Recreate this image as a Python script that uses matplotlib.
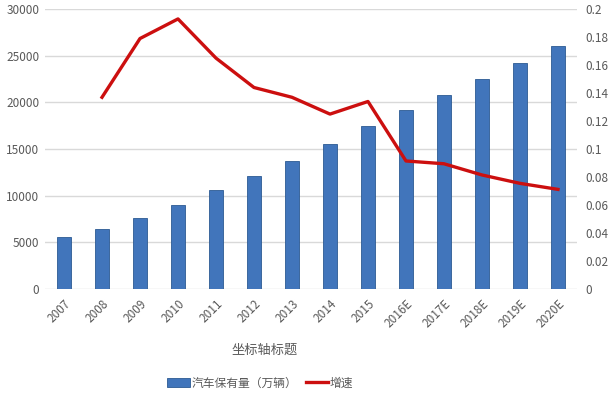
import matplotlib
matplotlib.use("Agg")
import matplotlib.pyplot as plt

plt.rcParams['font.family'] = ['Noto Sans CJK SC', 'DejaVu Sans']

years = ["2007", "2008", "2009", "2010", "2011", "2012", "2013", "2014", "2015",
         "2016E", "2017E", "2018E", "2019E", "2020E"]
stock = [5600, 6470, 7640, 9040, 10570, 12100, 13750, 15500, 17500,
         19150, 20800, 22500, 24250, 26100]
growth = [None, 0.137, 0.179, 0.193, 0.165, 0.144, 0.137, 0.125, 0.134,
          0.0915, 0.0895, 0.0815, 0.0755, 0.0712]

grey = "#595959"
fig = plt.figure(figsize=(6.14, 3.97), dpi=100)
ax = fig.add_axes([0.0733, 0.272, 0.8664, 0.705])
x = list(range(len(years)))

ax.bar(x, stock, width=0.37, color="#4175bb", edgecolor="#2c5a93", linewidth=0.6,
       label="汽车保有量（万辆）", zorder=2)
ax.set_ylim(0, 30000)
ax.set_yticks(range(0, 30001, 5000))
ax.set_xlim(-0.5, len(years) - 0.5)
ax.set_xticks(x)
ax.set_xticklabels(years, rotation=45, ha="right", rotation_mode="anchor")
ax.grid(axis="y", color="#d9d9d9", linewidth=1, zorder=0)
ax.set_axisbelow(True)
for s in ax.spines.values():
    s.set_visible(False)
ax.tick_params(length=0, labelsize=8.5, colors=grey, pad=4)
ax.tick_params(axis="x", pad=6)
ax.set_xlabel("坐标轴标题", fontsize=9.5, color=grey, va="center")
ax.xaxis.set_label_coords(0.4135, -0.218)

ax2 = ax.twinx()
gx = [i for i, g in zip(x, growth) if g is not None]
gy = [g for g in growth if g is not None]
ax2.plot(gx, gy, color="#cc0f0f", linewidth=2.4, label="增速", zorder=3)
ax2.set_ylim(0, 0.2)
ax2.set_yticks([i / 100 for i in range(0, 21, 2)])
ax2.set_yticklabels(["0", "0.02", "0.04", "0.06", "0.08", "0.1", "0.12", "0.14",
                     "0.16", "0.18", "0.2"])
for s in ax2.spines.values():
    s.set_visible(False)
ax2.tick_params(length=0, labelsize=8.5, colors=grey, pad=6)

h1, l1 = ax.get_legend_handles_labels()
h2, l2 = ax2.get_legend_handles_labels()
fig.legend(h1 + h2, l1 + l2, loc="center", bbox_to_anchor=(0.424, 0.035), ncol=2,
           frameon=False, fontsize=8.5, labelcolor=grey, handlelength=1.9,
           handletextpad=0.15, columnspacing=0.7)

fig.savefig("out.png", dpi=100)
